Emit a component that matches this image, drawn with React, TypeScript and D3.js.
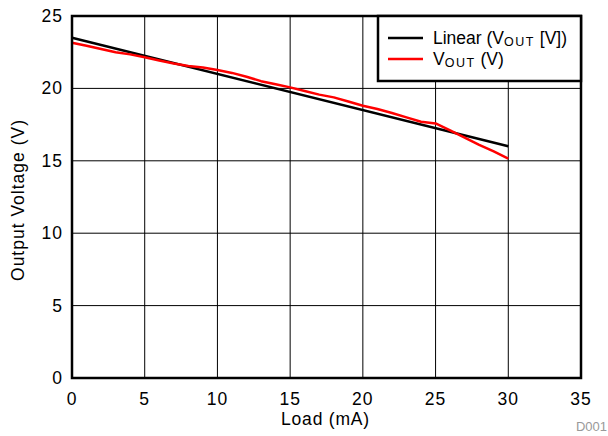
import { useEffect, useRef } from "react"
import * as d3 from "d3"

// Load current in mA (x) and measured output voltage (y)
const loadMa = [0, 1, 2, 3, 4, 5, 6, 7, 8, 9, 10, 11, 12, 13, 14, 15, 16, 17, 18, 19, 20, 21, 22, 23, 24, 25, 26, 27, 28, 29, 30]
const voutMeasured = [
  23.15, 22.95, 22.72, 22.5, 22.35, 22.15, 21.93, 21.72, 21.55, 21.45, 21.27, 21.07, 20.8, 20.5, 20.28, 20.07,
  19.82, 19.57, 19.38, 19.1, 18.8, 18.58, 18.3, 18.0, 17.7, 17.58, 17.1, 16.6, 16.1, 15.65, 15.15,
]
// linear trend line end points
const linearLoad = [0, 30]
const linearVout = [23.5, 16.0]

const xTicks = [0, 5, 10, 15, 20, 25, 30, 35]
const yTicks = [0, 5, 10, 15, 20, 25]

const W = 608
const H = 436
const FONT = "Arial, 'Liberation Sans', Helvetica, sans-serif"
const FS = 17.5

const App = () => {
  const svgRef = useRef<SVGSVGElement>(null)

  useEffect(() => {
    const svg = d3.select(svgRef.current)
    svg.selectAll("*").remove()

    const x = d3.scaleLinear().domain([0, 35]).range([72, 581])
    const y = d3.scaleLinear().domain([0, 25]).range([378, 16])

    svg.append("rect").attr("width", W).attr("height", H).attr("fill", "#fff")

    // grid
    const grid = svg.append("g").attr("stroke", "#000").attr("stroke-width", 1)
    xTicks.slice(1, -1).forEach((t) => {
      grid.append("line").attr("x1", x(t)).attr("x2", x(t)).attr("y1", y(0)).attr("y2", y(25))
    })
    yTicks.slice(1, -1).forEach((t) => {
      grid.append("line").attr("x1", x(0)).attr("x2", x(35)).attr("y1", y(t)).attr("y2", y(t))
    })

    // lines
    const line = d3
      .line<[number, number]>()
      .x((d) => x(d[0]))
      .y((d) => y(d[1]))

    svg
      .append("path")
      .datum(linearLoad.map((v, i) => [v, linearVout[i]] as [number, number]))
      .attr("d", line)
      .attr("fill", "none")
      .attr("stroke", "#000")
      .attr("stroke-width", 2.5)

    svg
      .append("path")
      .datum(loadMa.map((v, i) => [v, voutMeasured[i]] as [number, number]))
      .attr("d", line)
      .attr("fill", "none")
      .attr("stroke", "#ff0000")
      .attr("stroke-width", 2.5)
      .attr("stroke-linejoin", "round")

    // frame
    svg
      .append("rect")
      .attr("x", x(0))
      .attr("y", y(25))
      .attr("width", x(35) - x(0))
      .attr("height", y(0) - y(25))
      .attr("fill", "none")
      .attr("stroke", "#000")
      .attr("stroke-width", 2.5)

    // tick labels
    svg
      .append("g")
      .selectAll("text")
      .data(xTicks)
      .enter()
      .append("text")
      .attr("x", (d) => x(d))
      .attr("y", 405)
      .attr("text-anchor", "middle")
      .attr("font-family", FONT)
      .attr("font-size", FS)
      .attr("letter-spacing", 1)
      .text((d) => d)

    svg
      .append("g")
      .selectAll("text")
      .data(yTicks)
      .enter()
      .append("text")
      .attr("x", 63)
      .attr("y", (d) => y(d) + 6)
      .attr("text-anchor", "end")
      .attr("font-family", FONT)
      .attr("font-size", FS)
      .attr("letter-spacing", 1)
      .text((d) => d)

    // axis titles
    svg
      .append("text")
      .attr("x", x(17.5) - 1)
      .attr("y", 425)
      .attr("text-anchor", "middle")
      .attr("font-family", FONT)
      .attr("font-size", FS)
      .attr("letter-spacing", 0.8)
      .text("Load (mA)")

    svg
      .append("text")
      .attr("transform", `translate(24,${(y(0) + y(25)) / 2 + 3}) rotate(-90)`)
      .attr("text-anchor", "middle")
      .attr("font-family", FONT)
      .attr("font-size", FS)
      .attr("letter-spacing", 1)
      .text("Output Voltage (V)")

    svg
      .append("text")
      .attr("x", 607)
      .attr("y", 431)
      .attr("text-anchor", "end")
      .attr("font-family", FONT)
      .attr("font-size", 13)
      .attr("fill", "#999")
      .text("D001")

    // legend
    const lg = svg.append("g")
    lg.append("rect")
      .attr("x", 378)
      .attr("y", y(25))
      .attr("width", x(35) - 378)
      .attr("height", 65)
      .attr("fill", "#fff")
      .attr("stroke", "#000")
      .attr("stroke-width", 2.5)

    const items = [
      { color: "#000", pre: "Linear (V", post: " [V])", y: 38 },
      { color: "#ff0000", pre: "V", post: " (V)", y: 59 },
    ]
    items.forEach((it) => {
      lg.append("line")
        .attr("x1", 388)
        .attr("x2", 423)
        .attr("y1", it.y)
        .attr("y2", it.y)
        .attr("stroke", it.color)
        .attr("stroke-width", 2.5)
      const t = lg
        .append("text")
        .attr("x", 433)
        .attr("y", it.y + 6)
        .attr("font-family", FONT)
        .attr("font-size", FS)
      t.append("tspan").text(it.pre)
      t.append("tspan").attr("font-size", 12.5).attr("letter-spacing", 1.5).attr("dy", 1.5).text("OUT")
      t.append("tspan").attr("dy", -1.5).text(it.post)
    })
  }, [])

  return (
    <svg
      ref={svgRef}
      width={W}
      height={H}
      style={{ position: "absolute", left: 0, top: 0, display: "block" }}
    />
  )
}

export default App
